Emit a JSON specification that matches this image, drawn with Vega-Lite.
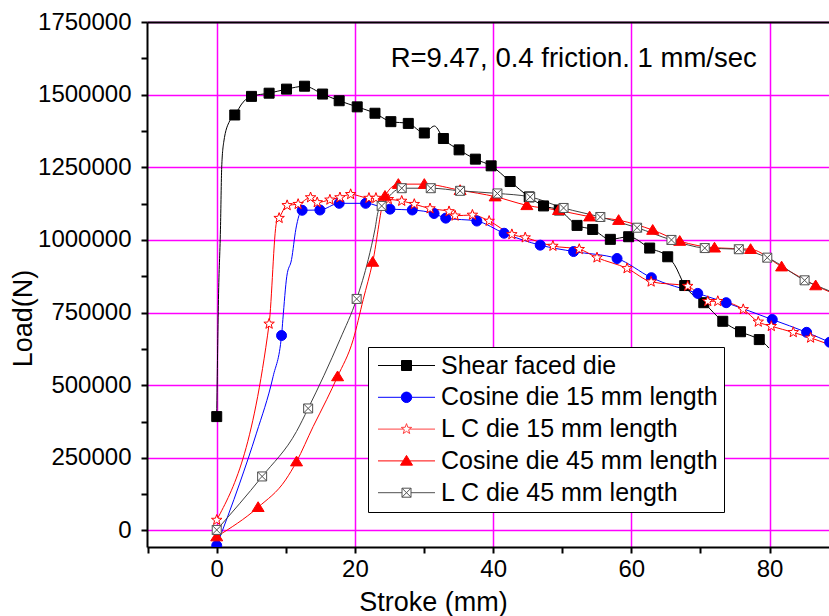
{
  "$schema": "https://vega.github.io/schema/vega-lite/v6.json",
  "width": 682,
  "height": 525,
  "autosize": {"type": "none"},
  "padding": {"left": 147, "top": 22, "right": 0, "bottom": 69},
  "background": "white",
  "config": {"view": {"stroke": null}, "font": "Liberation Sans"},
  "datasets": {
    "curves": [
      {"series": "Shear faced die", "stroke_mm": 0, "load_N": 392000},
      {"series": "Shear faced die", "stroke_mm": 0.25, "load_N": 795000},
      {"series": "Shear faced die", "stroke_mm": 0.54, "load_N": 1037000},
      {"series": "Shear faced die", "stroke_mm": 0.72, "load_N": 1250000},
      {"series": "Shear faced die", "stroke_mm": 1.01, "load_N": 1336000},
      {"series": "Shear faced die", "stroke_mm": 1.88, "load_N": 1410000},
      {"series": "Shear faced die", "stroke_mm": 2.61, "load_N": 1430000},
      {"series": "Shear faced die", "stroke_mm": 3.81, "load_N": 1474000},
      {"series": "Shear faced die", "stroke_mm": 5.03, "load_N": 1494000},
      {"series": "Shear faced die", "stroke_mm": 7.58, "load_N": 1505000},
      {"series": "Shear faced die", "stroke_mm": 10.1, "load_N": 1519000},
      {"series": "Shear faced die", "stroke_mm": 12.71, "load_N": 1529000},
      {"series": "Shear faced die", "stroke_mm": 15.32, "load_N": 1502000},
      {"series": "Shear faced die", "stroke_mm": 17.72, "load_N": 1479000},
      {"series": "Shear faced die", "stroke_mm": 20.33, "load_N": 1458000},
      {"series": "Shear faced die", "stroke_mm": 22.9, "load_N": 1436000},
      {"series": "Shear faced die", "stroke_mm": 25.2, "load_N": 1407000},
      {"series": "Shear faced die", "stroke_mm": 27.72, "load_N": 1401000},
      {"series": "Shear faced die", "stroke_mm": 30.04, "load_N": 1368000},
      {"series": "Shear faced die", "stroke_mm": 31.5, "load_N": 1392000},
      {"series": "Shear faced die", "stroke_mm": 32.8, "load_N": 1349000},
      {"series": "Shear faced die", "stroke_mm": 35.07, "load_N": 1310000},
      {"series": "Shear faced die", "stroke_mm": 37.43, "load_N": 1278000},
      {"series": "Shear faced die", "stroke_mm": 39.71, "load_N": 1255000},
      {"series": "Shear faced die", "stroke_mm": 42.46, "load_N": 1201000},
      {"series": "Shear faced die", "stroke_mm": 45.22, "load_N": 1148000},
      {"series": "Shear faced die", "stroke_mm": 47.29, "load_N": 1117000},
      {"series": "Shear faced die", "stroke_mm": 49.57, "load_N": 1103000},
      {"series": "Shear faced die", "stroke_mm": 52.14, "load_N": 1050000},
      {"series": "Shear faced die", "stroke_mm": 54.4, "load_N": 1036000},
      {"series": "Shear faced die", "stroke_mm": 56.96, "load_N": 1002000},
      {"series": "Shear faced die", "stroke_mm": 59.61, "load_N": 1011000},
      {"series": "Shear faced die", "stroke_mm": 62.65, "load_N": 972000},
      {"series": "Shear faced die", "stroke_mm": 65.26, "load_N": 942000},
      {"series": "Shear faced die", "stroke_mm": 66.2, "load_N": 916000},
      {"series": "Shear faced die", "stroke_mm": 67.72, "load_N": 843000},
      {"series": "Shear faced die", "stroke_mm": 70.48, "load_N": 784000},
      {"series": "Shear faced die", "stroke_mm": 73.23, "load_N": 720000},
      {"series": "Shear faced die", "stroke_mm": 75.8, "load_N": 684000},
      {"series": "Shear faced die", "stroke_mm": 78.51, "load_N": 657000},
      {"series": "Shear faced die", "stroke_mm": 79.17, "load_N": 646000},
      {"series": "Shear faced die", "stroke_mm": 79.9, "load_N": 628000},

      {"series": "\u00a0Cosine die 15 mm length", "stroke_mm": 0, "load_N": -52000},
      {"series": "\u00a0Cosine die 15 mm length", "stroke_mm": 3.33, "load_N": 163000},
      {"series": "\u00a0Cosine die 15 mm length", "stroke_mm": 5.75, "load_N": 335000},
      {"series": "\u00a0Cosine die 15 mm length", "stroke_mm": 8.16, "load_N": 530000},
      {"series": "\u00a0Cosine die 15 mm length", "stroke_mm": 9.38, "load_N": 671000},
      {"series": "\u00a0Cosine die 15 mm length", "stroke_mm": 9.57, "load_N": 726000},
      {"series": "\u00a0Cosine die 15 mm length", "stroke_mm": 10.14, "load_N": 875000},
      {"series": "\u00a0Cosine die 15 mm length", "stroke_mm": 10.83, "load_N": 933000},
      {"series": "\u00a0Cosine die 15 mm length", "stroke_mm": 11.45, "load_N": 1037000},
      {"series": "\u00a0Cosine die 15 mm length", "stroke_mm": 12.36, "load_N": 1102000},
      {"series": "\u00a0Cosine die 15 mm length", "stroke_mm": 14.93, "load_N": 1103000},
      {"series": "\u00a0Cosine die 15 mm length", "stroke_mm": 17.72, "load_N": 1126000},
      {"series": "\u00a0Cosine die 15 mm length", "stroke_mm": 21.55, "load_N": 1126000},
      {"series": "\u00a0Cosine die 15 mm length", "stroke_mm": 25.07, "load_N": 1106000},
      {"series": "\u00a0Cosine die 15 mm length", "stroke_mm": 28.3, "load_N": 1103000},
      {"series": "\u00a0Cosine die 15 mm length", "stroke_mm": 31.45, "load_N": 1091000},
      {"series": "\u00a0Cosine die 15 mm length", "stroke_mm": 33.14, "load_N": 1075000},
      {"series": "\u00a0Cosine die 15 mm length", "stroke_mm": 37.64, "load_N": 1065000},
      {"series": "\u00a0Cosine die 15 mm length", "stroke_mm": 41.59, "load_N": 1023000},
      {"series": "\u00a0Cosine die 15 mm length", "stroke_mm": 46.81, "load_N": 982000},
      {"series": "\u00a0Cosine die 15 mm length", "stroke_mm": 51.64, "load_N": 960000},
      {"series": "\u00a0Cosine die 15 mm length", "stroke_mm": 57.93, "load_N": 936000},
      {"series": "\u00a0Cosine die 15 mm length", "stroke_mm": 62.9, "load_N": 870000},
      {"series": "\u00a0Cosine die 15 mm length", "stroke_mm": 69.61, "load_N": 816000},
      {"series": "\u00a0Cosine die 15 mm length", "stroke_mm": 73.72, "load_N": 784000},
      {"series": "\u00a0Cosine die 15 mm length", "stroke_mm": 80.39, "load_N": 726000},
      {"series": "\u00a0Cosine die 15 mm length", "stroke_mm": 85.36, "load_N": 682000},
      {"series": "\u00a0Cosine die 15 mm length", "stroke_mm": 88.7, "load_N": 648000},
      {"series": "\u00a0Cosine die 15 mm length", "stroke_mm": 92, "load_N": 615000},

      {"series": "L C die 15 mm length", "stroke_mm": 0, "load_N": 36000},
      {"series": "L C die 15 mm length", "stroke_mm": 7.58, "load_N": 711000},
      {"series": "L C die 15 mm length", "stroke_mm": 8.65, "load_N": 1060000},
      {"series": "L C die 15 mm length", "stroke_mm": 9.03, "load_N": 1075000},
      {"series": "L C die 15 mm length", "stroke_mm": 10.19, "load_N": 1119000},
      {"series": "L C die 15 mm length", "stroke_mm": 11.78, "load_N": 1123000},
      {"series": "L C die 15 mm length", "stroke_mm": 13.58, "load_N": 1146000},
      {"series": "L C die 15 mm length", "stroke_mm": 14.54, "load_N": 1129000},
      {"series": "L C die 15 mm length", "stroke_mm": 16.38, "load_N": 1138000},
      {"series": "L C die 15 mm length", "stroke_mm": 17.83, "load_N": 1146000},
      {"series": "L C die 15 mm length", "stroke_mm": 19.38, "load_N": 1157000},
      {"series": "L C die 15 mm length", "stroke_mm": 22.03, "load_N": 1144000},
      {"series": "L C die 15 mm length", "stroke_mm": 23.04, "load_N": 1144000},
      {"series": "L C die 15 mm length", "stroke_mm": 24.83, "load_N": 1140000},
      {"series": "L C die 15 mm length", "stroke_mm": 26.77, "load_N": 1134000},
      {"series": "L C die 15 mm length", "stroke_mm": 28.59, "load_N": 1123000},
      {"series": "L C die 15 mm length", "stroke_mm": 30.87, "load_N": 1108000},
      {"series": "L C die 15 mm length", "stroke_mm": 33.62, "load_N": 1098000},
      {"series": "L C die 15 mm length", "stroke_mm": 34.49, "load_N": 1083000},
      {"series": "L C die 15 mm length", "stroke_mm": 37, "load_N": 1086000},
      {"series": "L C die 15 mm length", "stroke_mm": 39.42, "load_N": 1065000},
      {"series": "L C die 15 mm length", "stroke_mm": 42.71, "load_N": 1019000},
      {"series": "L C die 15 mm length", "stroke_mm": 44.64, "load_N": 1008000},
      {"series": "L C die 15 mm length", "stroke_mm": 48.65, "load_N": 979000},
      {"series": "L C die 15 mm length", "stroke_mm": 52.46, "load_N": 968000},
      {"series": "L C die 15 mm length", "stroke_mm": 55.03, "load_N": 939000},
      {"series": "L C die 15 mm length", "stroke_mm": 59.38, "load_N": 902000},
      {"series": "L C die 15 mm length", "stroke_mm": 62.86, "load_N": 856000},
      {"series": "L C die 15 mm length", "stroke_mm": 68.16, "load_N": 841000},
      {"series": "L C die 15 mm length", "stroke_mm": 71.06, "load_N": 789000},
      {"series": "L C die 15 mm length", "stroke_mm": 72.51, "load_N": 789000},
      {"series": "L C die 15 mm length", "stroke_mm": 76.19, "load_N": 761000},
      {"series": "L C die 15 mm length", "stroke_mm": 78.36, "load_N": 718000},
      {"series": "L C die 15 mm length", "stroke_mm": 80.25, "load_N": 703000},
      {"series": "L C die 15 mm length", "stroke_mm": 83.43, "load_N": 682000},
      {"series": "L C die 15 mm length", "stroke_mm": 85.94, "load_N": 663000},
      {"series": "L C die 15 mm length", "stroke_mm": 92, "load_N": 610000},

      {"series": "Cosine die 45 mm length", "stroke_mm": 0, "load_N": -21000},
      {"series": "Cosine die 45 mm length", "stroke_mm": 5.99, "load_N": 80000},
      {"series": "Cosine die 45 mm length", "stroke_mm": 9.96, "load_N": 174000},
      {"series": "Cosine die 45 mm length", "stroke_mm": 11.55, "load_N": 237000},
      {"series": "Cosine die 45 mm length", "stroke_mm": 13.96, "load_N": 358000},
      {"series": "Cosine die 45 mm length", "stroke_mm": 15.9, "load_N": 450000},
      {"series": "Cosine die 45 mm length", "stroke_mm": 17.49, "load_N": 530000},
      {"series": "Cosine die 45 mm length", "stroke_mm": 19.75, "load_N": 657000},
      {"series": "Cosine die 45 mm length", "stroke_mm": 21.2, "load_N": 795000},
      {"series": "Cosine die 45 mm length", "stroke_mm": 22.57, "load_N": 924000},
      {"series": "Cosine die 45 mm length", "stroke_mm": 24.35, "load_N": 1151000},
      {"series": "Cosine die 45 mm length", "stroke_mm": 26.28, "load_N": 1192000},
      {"series": "Cosine die 45 mm length", "stroke_mm": 30.04, "load_N": 1192000},
      {"series": "Cosine die 45 mm length", "stroke_mm": 35.22, "load_N": 1171000},
      {"series": "Cosine die 45 mm length", "stroke_mm": 40.29, "load_N": 1149000},
      {"series": "Cosine die 45 mm length", "stroke_mm": 44.88, "load_N": 1119000},
      {"series": "Cosine die 45 mm length", "stroke_mm": 49.46, "load_N": 1102000},
      {"series": "Cosine die 45 mm length", "stroke_mm": 53.96, "load_N": 1080000},
      {"series": "Cosine die 45 mm length", "stroke_mm": 58.16, "load_N": 1068000},
      {"series": "Cosine die 45 mm length", "stroke_mm": 63.09, "load_N": 1034000},
      {"series": "Cosine die 45 mm length", "stroke_mm": 67, "load_N": 996000},
      {"series": "Cosine die 45 mm length", "stroke_mm": 72.03, "load_N": 973000},
      {"series": "Cosine die 45 mm length", "stroke_mm": 77.25, "load_N": 968000},
      {"series": "Cosine die 45 mm length", "stroke_mm": 81.74, "load_N": 908000},
      {"series": "Cosine die 45 mm length", "stroke_mm": 86.67, "load_N": 843000},
      {"series": "Cosine die 45 mm length", "stroke_mm": 92, "load_N": 790000},

      {"series": "\u00a0L C die 45 mm length", "stroke_mm": 0, "load_N": 2000},
      {"series": "\u00a0L C die 45 mm length", "stroke_mm": 6.57, "load_N": 186000},
      {"series": "\u00a0L C die 45 mm length", "stroke_mm": 11.55, "load_N": 341000},
      {"series": "\u00a0L C die 45 mm length", "stroke_mm": 13.23, "load_N": 420000},
      {"series": "\u00a0L C die 45 mm length", "stroke_mm": 17.83, "load_N": 657000},
      {"series": "\u00a0L C die 45 mm length", "stroke_mm": 20.25, "load_N": 797000},
      {"series": "\u00a0L C die 45 mm length", "stroke_mm": 21.93, "load_N": 933000},
      {"series": "\u00a0L C die 45 mm length", "stroke_mm": 22.9, "load_N": 1037000},
      {"series": "\u00a0L C die 45 mm length", "stroke_mm": 23.38, "load_N": 1100000},
      {"series": "\u00a0L C die 45 mm length", "stroke_mm": 23.87, "load_N": 1117000},
      {"series": "\u00a0L C die 45 mm length", "stroke_mm": 26.77, "load_N": 1178000},
      {"series": "\u00a0L C die 45 mm length", "stroke_mm": 30.97, "load_N": 1178000},
      {"series": "\u00a0L C die 45 mm length", "stroke_mm": 35.22, "load_N": 1169000},
      {"series": "\u00a0L C die 45 mm length", "stroke_mm": 40.62, "load_N": 1160000},
      {"series": "\u00a0L C die 45 mm length", "stroke_mm": 45.36, "load_N": 1148000},
      {"series": "\u00a0L C die 45 mm length", "stroke_mm": 50.19, "load_N": 1110000},
      {"series": "\u00a0L C die 45 mm length", "stroke_mm": 55.51, "load_N": 1079000},
      {"series": "\u00a0L C die 45 mm length", "stroke_mm": 60.83, "load_N": 1042000},
      {"series": "\u00a0L C die 45 mm length", "stroke_mm": 65.8, "load_N": 1000000},
      {"series": "\u00a0L C die 45 mm length", "stroke_mm": 70.62, "load_N": 972000},
      {"series": "\u00a0L C die 45 mm length", "stroke_mm": 75.55, "load_N": 968000},
      {"series": "\u00a0L C die 45 mm length", "stroke_mm": 79.67, "load_N": 939000},
      {"series": "\u00a0L C die 45 mm length", "stroke_mm": 85.07, "load_N": 861000},
      {"series": "\u00a0L C die 45 mm length", "stroke_mm": 88.7, "load_N": 824000},
      {"series": "\u00a0L C die 45 mm length", "stroke_mm": 92, "load_N": 790000}
    ],
    "markers": [
      {"series": "Shear faced die", "stroke_mm": 0, "load_N": 392000},
      {"series": "Shear faced die", "stroke_mm": 2.61, "load_N": 1430000},
      {"series": "Shear faced die", "stroke_mm": 5.03, "load_N": 1494000},
      {"series": "Shear faced die", "stroke_mm": 7.58, "load_N": 1505000},
      {"series": "Shear faced die", "stroke_mm": 10.1, "load_N": 1519000},
      {"series": "Shear faced die", "stroke_mm": 12.71, "load_N": 1529000},
      {"series": "Shear faced die", "stroke_mm": 15.32, "load_N": 1502000},
      {"series": "Shear faced die", "stroke_mm": 17.72, "load_N": 1479000},
      {"series": "Shear faced die", "stroke_mm": 20.33, "load_N": 1458000},
      {"series": "Shear faced die", "stroke_mm": 22.9, "load_N": 1436000},
      {"series": "Shear faced die", "stroke_mm": 25.2, "load_N": 1407000},
      {"series": "Shear faced die", "stroke_mm": 27.72, "load_N": 1401000},
      {"series": "Shear faced die", "stroke_mm": 30.04, "load_N": 1368000},
      {"series": "Shear faced die", "stroke_mm": 32.8, "load_N": 1349000},
      {"series": "Shear faced die", "stroke_mm": 35.07, "load_N": 1310000},
      {"series": "Shear faced die", "stroke_mm": 37.43, "load_N": 1278000},
      {"series": "Shear faced die", "stroke_mm": 39.71, "load_N": 1255000},
      {"series": "Shear faced die", "stroke_mm": 42.46, "load_N": 1201000},
      {"series": "Shear faced die", "stroke_mm": 45.22, "load_N": 1148000},
      {"series": "Shear faced die", "stroke_mm": 47.29, "load_N": 1117000},
      {"series": "Shear faced die", "stroke_mm": 49.57, "load_N": 1103000},
      {"series": "Shear faced die", "stroke_mm": 52.14, "load_N": 1050000},
      {"series": "Shear faced die", "stroke_mm": 54.4, "load_N": 1036000},
      {"series": "Shear faced die", "stroke_mm": 56.96, "load_N": 1002000},
      {"series": "Shear faced die", "stroke_mm": 59.61, "load_N": 1011000},
      {"series": "Shear faced die", "stroke_mm": 62.65, "load_N": 972000},
      {"series": "Shear faced die", "stroke_mm": 65.26, "load_N": 942000},
      {"series": "Shear faced die", "stroke_mm": 67.72, "load_N": 843000},
      {"series": "Shear faced die", "stroke_mm": 70.48, "load_N": 784000},
      {"series": "Shear faced die", "stroke_mm": 73.23, "load_N": 720000},
      {"series": "Shear faced die", "stroke_mm": 75.8, "load_N": 684000},
      {"series": "Shear faced die", "stroke_mm": 78.51, "load_N": 657000},

      {"series": "\u00a0Cosine die 15 mm length", "stroke_mm": 0, "load_N": -52000},
      {"series": "\u00a0Cosine die 15 mm length", "stroke_mm": 9.38, "load_N": 671000},
      {"series": "\u00a0Cosine die 15 mm length", "stroke_mm": 12.36, "load_N": 1102000},
      {"series": "\u00a0Cosine die 15 mm length", "stroke_mm": 14.93, "load_N": 1103000},
      {"series": "\u00a0Cosine die 15 mm length", "stroke_mm": 17.72, "load_N": 1126000},
      {"series": "\u00a0Cosine die 15 mm length", "stroke_mm": 21.55, "load_N": 1126000},
      {"series": "\u00a0Cosine die 15 mm length", "stroke_mm": 25.07, "load_N": 1106000},
      {"series": "\u00a0Cosine die 15 mm length", "stroke_mm": 28.3, "load_N": 1103000},
      {"series": "\u00a0Cosine die 15 mm length", "stroke_mm": 31.45, "load_N": 1091000},
      {"series": "\u00a0Cosine die 15 mm length", "stroke_mm": 33.14, "load_N": 1075000},
      {"series": "\u00a0Cosine die 15 mm length", "stroke_mm": 37.64, "load_N": 1065000},
      {"series": "\u00a0Cosine die 15 mm length", "stroke_mm": 41.59, "load_N": 1023000},
      {"series": "\u00a0Cosine die 15 mm length", "stroke_mm": 46.81, "load_N": 982000},
      {"series": "\u00a0Cosine die 15 mm length", "stroke_mm": 51.64, "load_N": 960000},
      {"series": "\u00a0Cosine die 15 mm length", "stroke_mm": 57.93, "load_N": 936000},
      {"series": "\u00a0Cosine die 15 mm length", "stroke_mm": 62.9, "load_N": 870000},
      {"series": "\u00a0Cosine die 15 mm length", "stroke_mm": 69.61, "load_N": 816000},
      {"series": "\u00a0Cosine die 15 mm length", "stroke_mm": 73.72, "load_N": 784000},
      {"series": "\u00a0Cosine die 15 mm length", "stroke_mm": 80.39, "load_N": 726000},
      {"series": "\u00a0Cosine die 15 mm length", "stroke_mm": 85.36, "load_N": 682000},
      {"series": "\u00a0Cosine die 15 mm length", "stroke_mm": 88.7, "load_N": 648000},

      {"series": "L C die 15 mm length", "stroke_mm": 0, "load_N": 36000},
      {"series": "L C die 15 mm length", "stroke_mm": 7.58, "load_N": 711000},
      {"series": "L C die 15 mm length", "stroke_mm": 9.03, "load_N": 1075000},
      {"series": "L C die 15 mm length", "stroke_mm": 10.19, "load_N": 1119000},
      {"series": "L C die 15 mm length", "stroke_mm": 11.78, "load_N": 1123000},
      {"series": "L C die 15 mm length", "stroke_mm": 13.58, "load_N": 1146000},
      {"series": "L C die 15 mm length", "stroke_mm": 14.54, "load_N": 1129000},
      {"series": "L C die 15 mm length", "stroke_mm": 16.38, "load_N": 1138000},
      {"series": "L C die 15 mm length", "stroke_mm": 17.83, "load_N": 1146000},
      {"series": "L C die 15 mm length", "stroke_mm": 19.38, "load_N": 1157000},
      {"series": "L C die 15 mm length", "stroke_mm": 22.03, "load_N": 1144000},
      {"series": "L C die 15 mm length", "stroke_mm": 23.04, "load_N": 1144000},
      {"series": "L C die 15 mm length", "stroke_mm": 24.83, "load_N": 1140000},
      {"series": "L C die 15 mm length", "stroke_mm": 26.77, "load_N": 1134000},
      {"series": "L C die 15 mm length", "stroke_mm": 28.59, "load_N": 1123000},
      {"series": "L C die 15 mm length", "stroke_mm": 30.87, "load_N": 1108000},
      {"series": "L C die 15 mm length", "stroke_mm": 33.62, "load_N": 1098000},
      {"series": "L C die 15 mm length", "stroke_mm": 34.49, "load_N": 1083000},
      {"series": "L C die 15 mm length", "stroke_mm": 37, "load_N": 1086000},
      {"series": "L C die 15 mm length", "stroke_mm": 39.42, "load_N": 1065000},
      {"series": "L C die 15 mm length", "stroke_mm": 42.71, "load_N": 1019000},
      {"series": "L C die 15 mm length", "stroke_mm": 44.64, "load_N": 1008000},
      {"series": "L C die 15 mm length", "stroke_mm": 48.65, "load_N": 979000},
      {"series": "L C die 15 mm length", "stroke_mm": 52.46, "load_N": 968000},
      {"series": "L C die 15 mm length", "stroke_mm": 55.03, "load_N": 939000},
      {"series": "L C die 15 mm length", "stroke_mm": 59.38, "load_N": 902000},
      {"series": "L C die 15 mm length", "stroke_mm": 62.86, "load_N": 856000},
      {"series": "L C die 15 mm length", "stroke_mm": 68.16, "load_N": 841000},
      {"series": "L C die 15 mm length", "stroke_mm": 71.06, "load_N": 789000},
      {"series": "L C die 15 mm length", "stroke_mm": 72.51, "load_N": 789000},
      {"series": "L C die 15 mm length", "stroke_mm": 76.19, "load_N": 761000},
      {"series": "L C die 15 mm length", "stroke_mm": 78.36, "load_N": 718000},
      {"series": "L C die 15 mm length", "stroke_mm": 80.25, "load_N": 703000},
      {"series": "L C die 15 mm length", "stroke_mm": 83.43, "load_N": 682000},
      {"series": "L C die 15 mm length", "stroke_mm": 85.94, "load_N": 663000},

      {"series": "Cosine die 45 mm length", "stroke_mm": 0, "load_N": -21000},
      {"series": "Cosine die 45 mm length", "stroke_mm": 5.99, "load_N": 80000},
      {"series": "Cosine die 45 mm length", "stroke_mm": 11.55, "load_N": 237000},
      {"series": "Cosine die 45 mm length", "stroke_mm": 17.49, "load_N": 530000},
      {"series": "Cosine die 45 mm length", "stroke_mm": 22.57, "load_N": 924000},
      {"series": "Cosine die 45 mm length", "stroke_mm": 24.35, "load_N": 1151000},
      {"series": "Cosine die 45 mm length", "stroke_mm": 26.28, "load_N": 1192000},
      {"series": "Cosine die 45 mm length", "stroke_mm": 30.04, "load_N": 1192000},
      {"series": "Cosine die 45 mm length", "stroke_mm": 35.22, "load_N": 1171000},
      {"series": "Cosine die 45 mm length", "stroke_mm": 40.29, "load_N": 1149000},
      {"series": "Cosine die 45 mm length", "stroke_mm": 44.88, "load_N": 1119000},
      {"series": "Cosine die 45 mm length", "stroke_mm": 49.46, "load_N": 1102000},
      {"series": "Cosine die 45 mm length", "stroke_mm": 53.96, "load_N": 1080000},
      {"series": "Cosine die 45 mm length", "stroke_mm": 58.16, "load_N": 1068000},
      {"series": "Cosine die 45 mm length", "stroke_mm": 63.09, "load_N": 1034000},
      {"series": "Cosine die 45 mm length", "stroke_mm": 67, "load_N": 996000},
      {"series": "Cosine die 45 mm length", "stroke_mm": 72.03, "load_N": 973000},
      {"series": "Cosine die 45 mm length", "stroke_mm": 77.25, "load_N": 968000},
      {"series": "Cosine die 45 mm length", "stroke_mm": 81.74, "load_N": 908000},
      {"series": "Cosine die 45 mm length", "stroke_mm": 86.67, "load_N": 843000},

      {"series": "\u00a0L C die 45 mm length", "stroke_mm": 0, "load_N": 2000},
      {"series": "\u00a0L C die 45 mm length", "stroke_mm": 6.57, "load_N": 186000},
      {"series": "\u00a0L C die 45 mm length", "stroke_mm": 13.23, "load_N": 420000},
      {"series": "\u00a0L C die 45 mm length", "stroke_mm": 20.25, "load_N": 797000},
      {"series": "\u00a0L C die 45 mm length", "stroke_mm": 23.87, "load_N": 1117000},
      {"series": "\u00a0L C die 45 mm length", "stroke_mm": 26.77, "load_N": 1178000},
      {"series": "\u00a0L C die 45 mm length", "stroke_mm": 30.97, "load_N": 1178000},
      {"series": "\u00a0L C die 45 mm length", "stroke_mm": 35.22, "load_N": 1169000},
      {"series": "\u00a0L C die 45 mm length", "stroke_mm": 40.62, "load_N": 1160000},
      {"series": "\u00a0L C die 45 mm length", "stroke_mm": 45.36, "load_N": 1148000},
      {"series": "\u00a0L C die 45 mm length", "stroke_mm": 50.19, "load_N": 1110000},
      {"series": "\u00a0L C die 45 mm length", "stroke_mm": 55.51, "load_N": 1079000},
      {"series": "\u00a0L C die 45 mm length", "stroke_mm": 60.83, "load_N": 1042000},
      {"series": "\u00a0L C die 45 mm length", "stroke_mm": 65.8, "load_N": 1000000},
      {"series": "\u00a0L C die 45 mm length", "stroke_mm": 70.62, "load_N": 972000},
      {"series": "\u00a0L C die 45 mm length", "stroke_mm": 75.55, "load_N": 968000},
      {"series": "\u00a0L C die 45 mm length", "stroke_mm": 79.67, "load_N": 939000},
      {"series": "\u00a0L C die 45 mm length", "stroke_mm": 85.07, "load_N": 861000}
    ],
    "names": [
      {"series": "Shear faced die"},
      {"series": "\u00a0Cosine die 15 mm length"},
      {"series": "L C die 15 mm length"},
      {"series": "Cosine die 45 mm length"},
      {"series": "\u00a0L C die 45 mm length"}
    ]
  },
  "layer": [
    {
      "data": {"name": "curves"},
      "mark": {"type": "line", "strokeWidth": 1, "interpolate": "monotone", "clip": true},
      "encoding": {
        "x": {
          "field": "stroke_mm", "type": "quantitative",
          "scale": {"domain": [-10.09, 88.6], "nice": false, "zero": false},
          "axis": {
            "orient": "bottom",
            "values": [-10, 0, 10, 20, 30, 40, 50, 60, 70, 80],
            "format": "d",
            "labelExpr": "datum.value % 20 === 0 ? datum.label : ''",
            "labelFont": "Liberation Sans", "labelFontSize": 24, "labelColor": "black",
            "labelPadding": 4, "labelFlush": false, "labelOverlap": false,
            "tickSize": 6, "tickWidth": 2, "tickColor": "black",
            "domainColor": "black", "domainWidth": 2,
            "grid": true, "gridColor": "#ff00ff", "gridWidth": 1.5,
            "gridOpacity": {"condition": {"test": "datum.value % 20 === 0", "value": 1}, "value": 0},
            "title": "Stroke (mm)", "titleFont": "Liberation Sans", "titleFontSize": 27,
            "titleFontWeight": "normal", "titleColor": "black",
            "titleX": 286, "titleY": 63, "titleAlign": "center", "titleBaseline": "alphabetic"
          }
        },
        "y": {
          "field": "load_N", "type": "quantitative",
          "scale": {"domain": [-56800, 1750000], "nice": false, "zero": false},
          "axis": {
            "orient": "left",
            "values": [0, 125000, 250000, 375000, 500000, 625000, 750000, 875000, 1000000, 1125000, 1250000, 1375000, 1500000, 1625000, 1750000],
            "format": "d",
            "labelExpr": "datum.value % 250000 === 0 ? datum.label : ''",
            "labelFont": "Liberation Sans", "labelFontSize": 24, "labelColor": "black",
            "labelPadding": 10, "labelFlush": false, "labelOverlap": false,
            "tickSize": 6, "tickWidth": 2, "tickColor": "black",
            "domainColor": "black", "domainWidth": 2,
            "grid": true, "gridColor": "#ff00ff", "gridWidth": 1.5,
            "gridOpacity": {"condition": {"test": "datum.value % 250000 === 0", "value": 1}, "value": 0},
            "title": "Load(N)", "titleFont": "Liberation Sans", "titleFontSize": 27,
            "titleFontWeight": "normal", "titleColor": "black",
            "titleX": -124, "titleY": 296, "titleAlign": "center", "titleBaseline": "middle", "titleAngle": -90
          }
        },
        "color": {
          "field": "series", "type": "nominal",
          "scale": {
            "domain": ["Shear faced die", "\u00a0Cosine die 15 mm length", "L C die 15 mm length", "Cosine die 45 mm length", "\u00a0L C die 45 mm length"],
            "range": ["#000000", "#0000ff", "#ff0000", "#ff0000", "#404040"]
          },
          "legend": null
        }
      }
    },
    {
      "data": {"name": "markers"},
      "mark": {"type": "point", "size": 100, "strokeWidth": 1, "opacity": 1, "clip": true},
      "encoding": {
        "x": {"field": "stroke_mm", "type": "quantitative", "scale": {"domain": [-10.09, 88.6], "nice": false, "zero": false}, "axis": null},
        "y": {"field": "load_N", "type": "quantitative", "scale": {"domain": [-56800, 1750000], "nice": false, "zero": false}, "axis": null},
        "shape": {
          "field": "series", "type": "nominal",
          "scale": {
            "domain": ["Shear faced die", "\u00a0Cosine die 15 mm length", "L C die 15 mm length", "Cosine die 45 mm length", "\u00a0L C die 45 mm length"],
            "range": [
              "square",
              "circle",
              "M0,-1.1L0.2645,-0.364L1.046,-0.34L0.428,0.139L0.647,0.89L0,0.45L-0.647,0.89L-0.428,0.139L-1.046,-0.34L-0.2645,-0.364Z",
              "M0,-1.1L1.2,0.85H-1.2Z",
              "M-0.9,-0.9H0.9V0.9H-0.9ZM-0.9,-0.9L0.9,0.9M0.9,-0.9L-0.9,0.9"
            ]
          },
          "legend": null
        },
        "fill": {
          "field": "series", "type": "nominal",
          "scale": {
            "domain": ["Shear faced die", "\u00a0Cosine die 15 mm length", "L C die 15 mm length", "Cosine die 45 mm length", "\u00a0L C die 45 mm length"],
            "range": ["#000000", "#0000ff", "#ffffff", "#ff0000", "#ffffff"]
          },
          "legend": null
        },
        "stroke": {
          "field": "series", "type": "nominal",
          "scale": {
            "domain": ["Shear faced die", "\u00a0Cosine die 15 mm length", "L C die 15 mm length", "Cosine die 45 mm length", "\u00a0L C die 45 mm length"],
            "range": ["#000000", "#0000ff", "#ff0000", "#ff0000", "#505050"]
          },
          "legend": null
        }
      }
    },
    {
      "data": {"name": "names"},
      "transform": [{"filter": "false"}],
      "mark": {"type": "point", "size": 100, "strokeWidth": 1, "opacity": 1},
      "encoding": {
        "shape": {
          "field": "series", "type": "nominal",
          "scale": {
            "domain": ["Shear faced die", "\u00a0Cosine die 15 mm length", "L C die 15 mm length", "Cosine die 45 mm length", "\u00a0L C die 45 mm length"],
            "range": [
              "M-5.7,0H-1M1,0H5.7M-1,-1H1V1H-1Z",
              "M-5.7,0H-1.05M1.05,0H5.7M-1.05,0A1.05,1.05,0,1,0,1.05,0A1.05,1.05,0,1,0,-1.05,0Z",
              "M-5.7,0H-0.6M0.6,0H5.7M0,-1.1L0.2645,-0.364L1.046,-0.34L0.428,0.139L0.647,0.89L0,0.45L-0.647,0.89L-0.428,0.139L-1.046,-0.34L-0.2645,-0.364Z",
              "M-5.7,0H-0.68M0.68,0H5.7M0,-1.1L1.2,0.85H-1.2Z",
              "M-5.7,0H-0.9M0.9,0H5.7M-0.9,-0.9H0.9V0.9H-0.9ZM-0.9,-0.9L0.9,0.9M0.9,-0.9L-0.9,0.9"
            ]
          },
          "legend": {
            "title": null, "orient": "none", "legendX": 221, "legendY": 325,
            "symbolSize": 100, "symbolStrokeWidth": 1, "symbolOpacity": 1, "symbolOffset": 20,
            "labelFont": "Liberation Sans", "labelFontSize": 25, "labelColor": "black", "labelLimit": 400,
            "labelOffset": 22,
            "padding": 6, "rowPadding": 5.8, "strokeColor": "black", "fillColor": "white", "cornerRadius": 0
          }
        },
        "fill": {
          "field": "series", "type": "nominal",
          "scale": {
            "domain": ["Shear faced die", "\u00a0Cosine die 15 mm length", "L C die 15 mm length", "Cosine die 45 mm length", "\u00a0L C die 45 mm length"],
            "range": ["#000000", "#0000ff", "#ffffff", "#ff0000", "#ffffff"]
          },
          "legend": {
            "title": null, "orient": "none", "legendX": 221, "legendY": 325,
            "symbolSize": 100, "symbolStrokeWidth": 1, "symbolOpacity": 1, "symbolOffset": 20,
            "labelFont": "Liberation Sans", "labelFontSize": 25, "labelColor": "black", "labelLimit": 400,
            "labelOffset": 22,
            "padding": 6, "rowPadding": 5.8, "strokeColor": "black", "fillColor": "white", "cornerRadius": 0
          }
        },
        "stroke": {
          "field": "series", "type": "nominal",
          "scale": {
            "domain": ["Shear faced die", "\u00a0Cosine die 15 mm length", "L C die 15 mm length", "Cosine die 45 mm length", "\u00a0L C die 45 mm length"],
            "range": ["#000000", "#0000ff", "#ff4040", "#ff0000", "#505050"]
          },
          "legend": {
            "title": null, "orient": "none", "legendX": 221, "legendY": 325,
            "symbolSize": 100, "symbolStrokeWidth": 1, "symbolOpacity": 1, "symbolOffset": 20,
            "labelFont": "Liberation Sans", "labelFontSize": 25, "labelColor": "black", "labelLimit": 400,
            "labelOffset": 22,
            "padding": 6, "rowPadding": 5.8, "strokeColor": "black", "fillColor": "white", "cornerRadius": 0
          }
        }
      }
    },
    {
      "data": {"values": [{}]},
      "mark": {"type": "text", "text": "R=9.47, 0.4 friction. 1 mm/sec", "align": "left", "baseline": "alphabetic", "font": "Liberation Sans", "fontSize": 27.5, "color": "black"},
      "encoding": {
        "x": {
          "datum": 25.17, "type": "quantitative",
          "scale": {"domain": [-10.09, 88.6], "nice": false, "zero": false},
          "axis": {"orient": "top", "labels": false, "ticks": false, "grid": false, "title": null, "domainColor": "black", "domainWidth": 2}
        },
        "y": {
          "datum": 1596000, "type": "quantitative",
          "scale": {"domain": [-56800, 1750000], "nice": false, "zero": false},
          "axis": null
        }
      }
    }
  ],
  "resolve": {
    "scale": {"shape": "independent", "fill": "independent", "stroke": "independent"},
    "axis": {"x": "independent", "y": "independent"}
  }
}
